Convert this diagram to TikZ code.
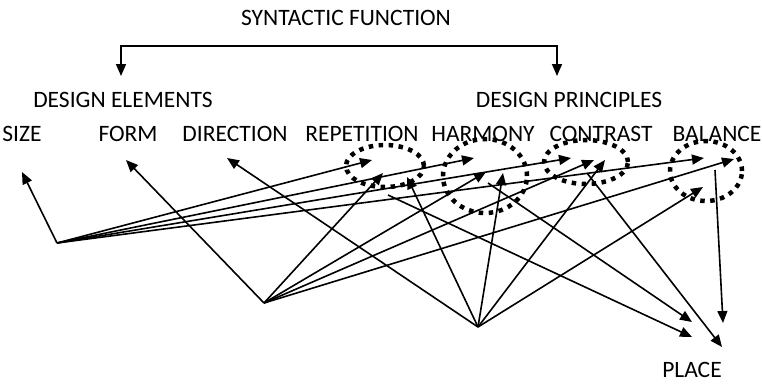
\documentclass[tikz,border=0pt]{standalone}
\usepackage{fontspec}
\setmainfont{Carlito}
\usetikzlibrary{arrows.meta}
\begin{document}
\begin{tikzpicture}[x=1pt,y=-1pt,
  lbl/.style={inner sep=0pt, font=\fontsize{23.5}{27}\selectfont},
  arr/.style={line width=1.6pt, -{Triangle[length=12pt,width=10pt]}},
  brk/.style={line width=1.6pt, {Triangle[length=12pt,width=10pt]}-{Triangle[length=12pt,width=10pt]}},
  ring/.style={line width=4.5pt, dash pattern=on 4.5pt off 5.5pt}]
\useasboundingbox (0,0) rectangle (762,384);
% labels
\node[lbl] (syn) at (346,18) {SYNTACTIC FUNCTION};
\node[lbl] (de) at (123,100) {DESIGN ELEMENTS};
\node[lbl] (dp) at (569,100) {DESIGN PRINCIPLES};
\node[lbl] (size) at (22,134) {SIZE};
\node[lbl] (form) at (128,134) {FORM};
\node[lbl] (dir) at (235,134) {DIRECTION};
\node[lbl] (rep) at (362,134) {REPETITION};
\node[lbl] (har) at (483,134) {HARMONY};
\node[lbl] (con) at (601,134) {CONTRAST};
\node[lbl] (bal) at (717,134) {BALANCE};
\node[lbl] (place) at (692,370) {PLACE};
% bracket
\coordinate (bl) at (121,46);
\coordinate (br) at (557,46);
\coordinate (tl) at (121,76);
\coordinate (tr) at (557,76);
\draw[brk] (tl) -- (bl) -- (br) -- (tr);
% dotted rings
\draw[ring] (385,166) ellipse [x radius=39pt, y radius=21pt];
\draw[ring] (485,176) ellipse [x radius=42pt, y radius=37pt];
\draw[ring] (586,162) ellipse [x radius=42pt, y radius=22pt];
\draw[ring] (706,171) ellipse [x radius=36pt, y radius=30pt];
% hubs
\coordinate (h1) at (57,243);
\coordinate (h2) at (264,303);
\coordinate (h3) at (478,327);
% tips at elements
\coordinate (tsize) at (22,172);
\coordinate (tform) at (126,160);
\coordinate (tdir) at (227,158);
% tips at principles
\coordinate (a1) at (372,160);
\coordinate (a2) at (383,173);
\coordinate (a3) at (407,177);
\coordinate (a4) at (474,158);
\coordinate (a5) at (486,172);
\coordinate (a6) at (503,173);
\coordinate (a7) at (571,158);
\coordinate (a8) at (594,160);
\coordinate (a9) at (605,160);
\coordinate (a10) at (704,158);
\coordinate (a11) at (734,159);
\coordinate (a12) at (703,187);
% starts at principles
\coordinate (srep) at (388,195);
\coordinate (shar) at (488,183);
\coordinate (scon) at (587,173);
\coordinate (sbal) at (715,170);
% tips at place
\coordinate (p1) at (692,322);
\coordinate (p2) at (692,337);
\coordinate (p3) at (722,347);
\coordinate (p4) at (723,323);
% hub 1
\draw[arr] (h1) -- (tsize);
\draw[arr] (h1) -- (a1);
\draw[arr] (h1) -- (a4);
\draw[arr] (h1) -- (a7);
\draw[arr] (h1) -- (a10);
% hub 2
\draw[arr] (h2) -- (tform);
\draw[arr] (h2) -- (a2);
\draw[arr] (h2) -- (a5);
\draw[arr] (h2) -- (a8);
\draw[arr] (h2) -- (a11);
% hub 3
\draw[arr] (h3) -- (tdir);
\draw[arr] (h3) -- (a3);
\draw[arr] (h3) -- (a6);
\draw[arr] (h3) -- (a9);
\draw[arr] (h3) -- (a12);
% to place
\draw[arr] (srep) -- (p2);
\draw[arr] (shar) -- (p1);
\draw[arr] (scon) -- (p3);
\draw[arr] (sbal) -- (p4);
\end{tikzpicture}
\end{document}
